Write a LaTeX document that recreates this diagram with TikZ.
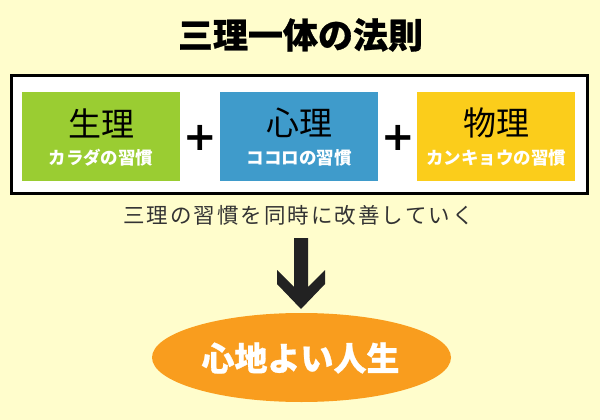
\documentclass[tikz,border=0pt]{standalone}
\usepackage{fontspec}
\usetikzlibrary{shapes.geometric}
\newfontfamily\cjk{Noto Sans CJK JP}
\newfontfamily\cjkheavy{Noto Sans CJK JP}[BoldFeatures={FakeBold=0.8}]
\newfontfamily\plusfont{DejaVu Sans}
\definecolor{bg}{HTML}{FFFDCC}
\definecolor{cgreen}{HTML}{9ACD32}
\definecolor{cblue}{HTML}{3F9BCB}
\definecolor{cyellow}{HTML}{FBCD1B}
\definecolor{corange}{HTML}{F99D1E}
\definecolor{carrow}{HTML}{222222}
\definecolor{ctext}{HTML}{333333}
\begin{document}
\begin{tikzpicture}[x=1pt,y=-1pt,
  habitbox/.style={rectangle, minimum width=158pt, minimum height=89pt, inner sep=0pt, draw=none},
  bigname/.style={font=\cjk\fontsize{33}{36}\selectfont, text=black, inner sep=0pt},
  subname/.style={font=\cjk\bfseries\fontsize{17.5}{20}\selectfont, text=white, inner sep=0pt},
  plussign/.style={font=\plusfont\bfseries\fontsize{40}{44}\selectfont, text=black, inner sep=0pt}]
\fill[bg] (0,0) rectangle (600,420);
\useasboundingbox (0,0) rectangle (600,420);
\node[font=\cjkheavy\bfseries\fontsize{35}{40}\selectfont, inner sep=0pt] (title) at (300.5,35) {三理一体の法則};
\node[rectangle, draw=black, line width=3pt, fill=white, minimum width=576pt, minimum height=118pt, inner sep=0pt] (frame) at (299.5,134.5) {};
\node[habitbox, fill=cgreen] (b1) at (101,136.5) {};
\node[habitbox, fill=cblue] (b2) at (299,136.5) {};
\node[habitbox, fill=cyellow] (b3) at (496,136.5) {};
\node[bigname] (t1) at (101,123) {生理};
\node[bigname] (t2) at (299,123) {心理};
\node[bigname] (t3) at (496,123) {物理};
\node[subname] (s1) at (101,157.5) {カラダの習慣};
\node[subname] (s2) at (299,157.5) {ココロの習慣};
\node[subname] (s3) at (496,157.5) {カンキョウの習慣};
\node[plussign] (p1) at (200.5,137.5) {+};
\node[plussign] (p2) at (398.5,137.5) {+};
\node[font=\cjk\fontsize{21.5}{24}\selectfont, text=ctext, inner sep=0pt] (mid) at (298.5,215)
  {\foreach \c in {三,理,の,習,慣,を,同,時,に,改,善,し,て,い,く}{\makebox[23.5pt]{\c}}};
\fill[carrow] (294,238) -- (308,238) -- (308,287) -- (325,270) -- (325,284) -- (301,309)
  -- (277,284) -- (277,270) -- (294,287) -- cycle;
\node[ellipse, fill=corange, minimum width=299pt, minimum height=89pt, inner sep=0pt] (goal) at (301.5,357.5) {};
\node[font=\cjkheavy\bfseries\fontsize{33}{36}\selectfont, text=white, inner sep=0pt] (goaltext) at (300.5,358) {心地よい人生};
\end{tikzpicture}
\end{document}
